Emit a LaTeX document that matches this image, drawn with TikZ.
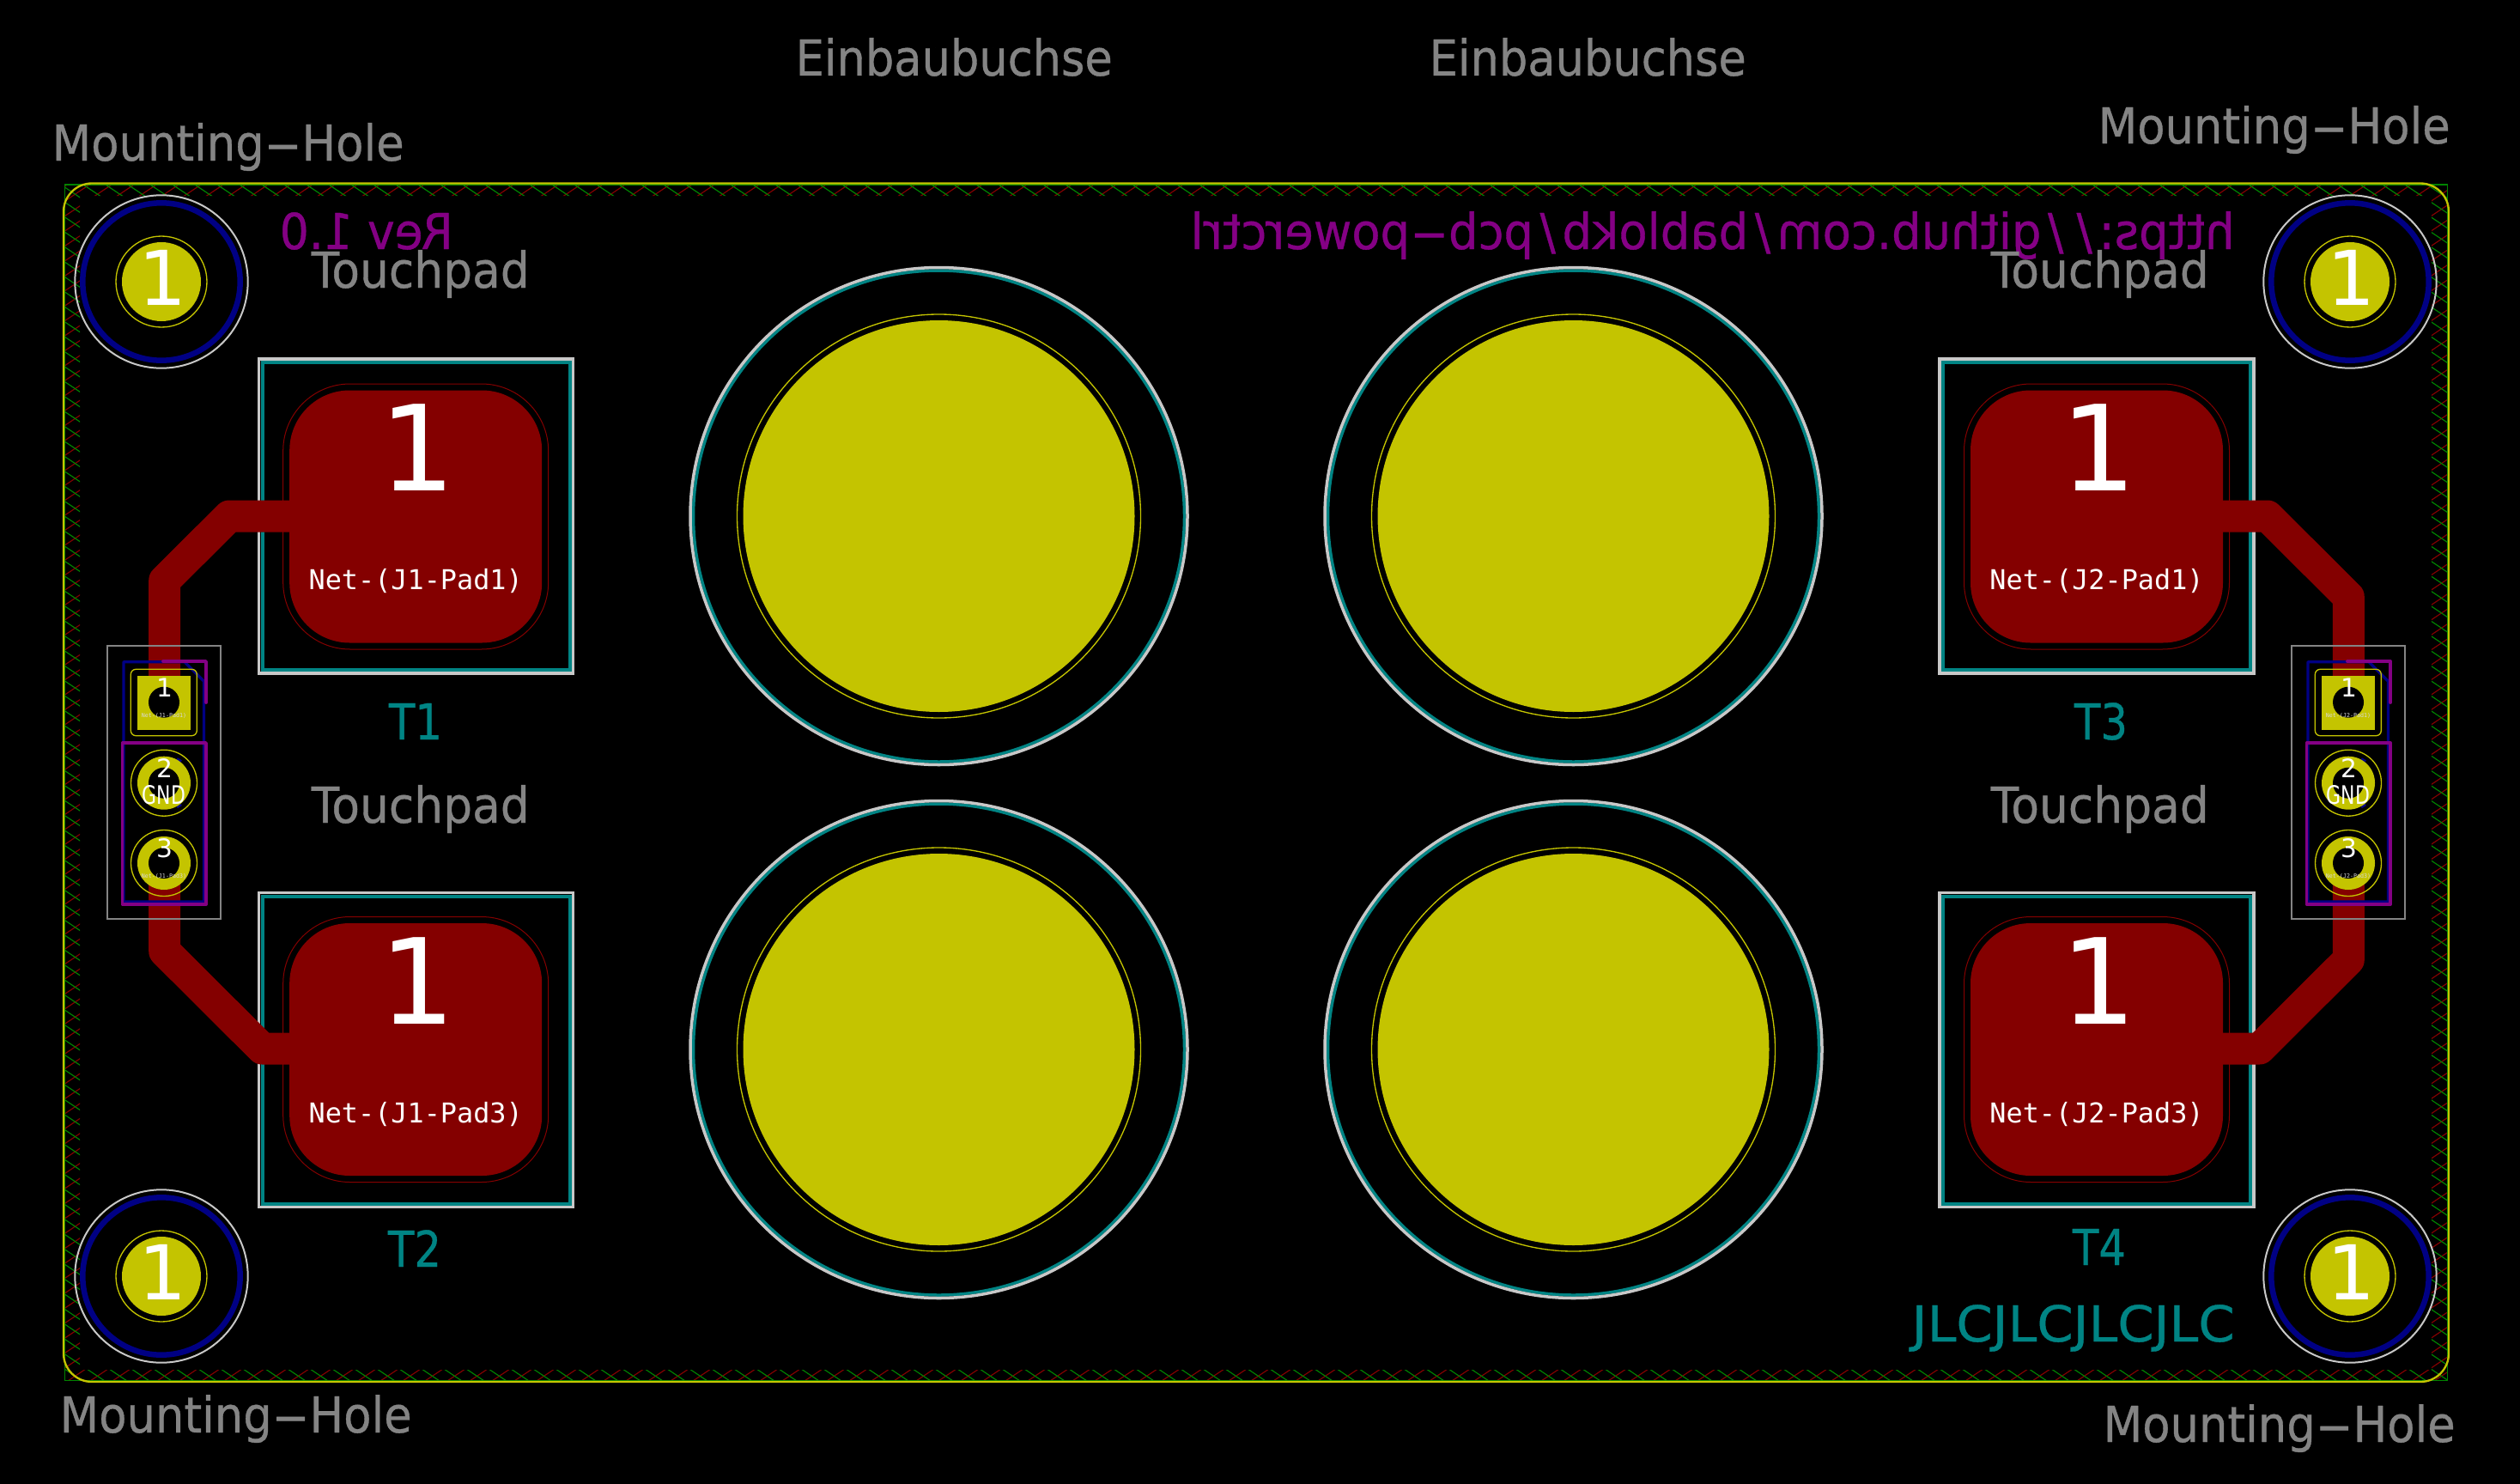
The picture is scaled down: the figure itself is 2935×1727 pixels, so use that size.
\documentclass[tikz,border=0pt]{standalone}
\usepackage{graphicx}
\usepackage{fontspec}
\setmainfont{DejaVu Sans}
\newfontfamily\netfont{DejaVu Sans Mono}
\newfontfamily\kifont[FakeBold=0.7]{DejaVu Sans}
\usetikzlibrary{positioning}

\definecolor{gold}{HTML}{C4C400}
\definecolor{cu}{HTML}{840000}
\definecolor{bluecu}{HTML}{000084}
\definecolor{teal}{HTML}{008484}
\definecolor{silk}{HTML}{848484}
\definecolor{edge}{HTML}{C8C8C8}
\definecolor{mauve}{HTML}{840084}
\definecolor{zone}{HTML}{008400}

% one picture unit is one pixel of the board plot
\newdimen\pxunit \pxunit=0.3pt
\newcommand{\hy}{\scalebox{2.3}[1]{-}}
\newcommand{\sep}{\hspace{0.14em}/\hspace{0.14em}}
\newcommand{\kitext}[2]{\resizebox{#1\pxunit}{\height}{\kifont\fontsize{17.3}{20}\selectfont #2}}

\tikzset{
 silktext/.style={anchor=base west,inner sep=0pt,text=silk},
 refdes/.style={anchor=base,inner sep=0pt,text=teal},
 padnum/.style={anchor=base,inner sep=0pt,text=white},
 netname/.style={anchor=center,inner sep=0pt,text=white,font=\netfont\fontsize{9.55}{11}\selectfont},
 tinynet/.style={anchor=center,inner sep=0pt,text=white!85!black,font=\netfont\fontsize{2}{2.4}\selectfont},
 touchpad/.style={fill=cu,minimum size=88.2pt,inner sep=0pt,rounded corners=21pt},
 clearance/.style={draw=cu,line width=0.3pt,minimum size=92.7pt,inner sep=0pt,rounded corners=23.4pt},
 track/.style={draw=cu,line width=11.1pt,line join=round},
 thinline/.style={draw=gold,line width=0.4pt},
 purple line/.style={draw=mauve,line width=1.15pt,line cap=round,line join=round},
 blue line/.style={draw=bluecu,line width=1pt,line join=round}
}

\begin{document}
\begin{tikzpicture}[x=0.3pt,y=-0.3pt]
\useasboundingbox (0,0) rectangle (2935,1727);
\fill[black] (-5,-5) rectangle (2940,1732);

% hatching of the keep-out band
\begin{scope}[even odd rule]
\clip (75.5,215) rectangle (2850.5,1607.5) (93,228) rectangle (2832,1595);
\foreach \i in {-82,...,107}
 \draw[cu,line width=0.35pt] (105+26*\i,1608) -- ++(2100,-1407);
\foreach \i in {-2,...,187}
 \draw[zone,line width=0.35pt] (122+26*\i,1608) -- ++(-2100,-1407);
\end{scope}
\draw[zone,line width=0.4pt] (75.5,215) rectangle (2850.5,1607.5);
\draw[gold,line width=0.7pt,rounded corners=9.9pt] (74,213.5) rectangle (2852,1609);

% the four big sockets
\foreach \x/\y in {1093.5/601,1832.5/601,1093.5/1222,1832.5/1222}{
 \fill[gold] (\x,\y) circle (228);
 \draw[thinline] (\x,\y) circle (235);
 \draw[teal,line width=1.05pt] (\x,\y) circle (286);
 \draw[edge,line width=1.05pt] (\x,\y) circle (289.5);
}

% mounting holes
\foreach \x/\y/\n in {188/328/a,2737/328/b,188/1486/c,2737/1486/d}{
 \draw[edge,line width=0.6pt] (\x,\y) circle (100.7);
 \draw[bluecu,line width=1.95pt] (\x,\y) circle (91.7);
 \fill[gold] (\x,\y) circle (46);
 \draw[thinline] (\x,\y) circle (53);
 \node[padnum,font=\fontsize{26.4}{30}\selectfont] (hole\n) at (\x+1,\y+27) {1};
}

% frames of the touchpads
\foreach \x/\y in {484.5/601,484.5/1222.5,2442/601,2442/1222.5}{
 \draw[teal,line width=1.2pt] (\x-179,\y-179) rectangle (\x+179,\y+179);
 \draw[edge,line width=1.05pt] (\x-183,\y-183) rectangle (\x+183,\y+183);
}

% touchpads
\node[touchpad] (padA) at (484.2,601.5) {};
\node[touchpad] (padB) at (484.2,1222) {};
\node[touchpad] (padC) at (2442,601.5) {};
\node[touchpad] (padD) at (2442,1222) {};
\node[clearance] at (padA) {};
\node[clearance] at (padB) {};
\node[clearance] at (padC) {};
\node[clearance] at (padD) {};

% where the tracks end at the connectors
\coordinate (connA) at (191.7,817.7);
\coordinate (connB) at (191.7,1005);
\coordinate (connC) at (2735.3,817.7);
\coordinate (connD) at (2735.3,1005);
\draw[track] (padA.center) -- (267,601) -- (191.7,676) -- (connA);
\draw[track] (padB.center) -- (305.5,1221) -- (191.7,1107.6) -- (connB);
\draw[track] (padC.center) -- (2640.9,601) -- (2735.3,695) -- (connC);
\draw[track] (padD.center) -- (2631.6,1221) -- (2735.3,1117.6) -- (connD);

% the two connectors
\foreach \cx/\n in {191/1,2735/2}{
\begin{scope}[shift={(\cx,0)}]
 \draw[silk,line width=0.6pt] (-66.5,752) rectangle (66,1070);
 \draw[blue line] (-47,770.7) -- (24,770.7) -- (46.5,793.3) -- (46.5,1050) -- (-47,1050) -- cycle;
 \draw[bluecu,line width=1pt] (15,883.7) -- (20,886.7);
 \draw[bluecu,line width=1pt] (15,939.7) -- (20,936.7);
 \fill[gold] (-31,787) rectangle (31,849.7);
 \fill[black] (0,817.7) circle (18);
 \draw[thinline,rounded corners=1.8pt] (-38.7,779.3) rectangle (38.3,856.7);
 \fill[gold] (0,911.7) circle (31);
 \fill[black] (0,911.7) circle (18);
 \draw[thinline] (0,911.7) circle (38.5);
 \fill[gold] (0,1005) circle (31);
 \fill[black] (0,1005) circle (18);
 \draw[thinline] (0,1005) circle (38.5);
 \draw[purple line] (-1,770) -- (49,770) -- (49,818);
 \draw[purple line] (-48.5,865) rectangle (49,1053);
 \node[padnum,font=\fontsize{8.9}{10}\selectfont] (num1J\n) at (1,811.7) {1};
 \node[padnum,font=\fontsize{8.9}{10}\selectfont] (num2J\n) at (1,905) {2};
 \node[padnum,font=\fontsize{8.9}{10}\selectfont] (gndJ\n) at (0,936.7) {\scalebox{0.74}[1]{GND}};
 \node[padnum,font=\fontsize{8.9}{10}\selectfont] (num3J\n) at (1,998.3) {3};
 \node[tinynet] (netaJ\n) at (0,833.3) {Net-(J\n-Pad1)};
 \node[tinynet] (netbJ\n) at (0,1020) {Net-(J\n-Pad3)};
\end{scope}
}

% pad numbers and nets
\foreach \p/\t in {padA/J1-Pad1,padB/J1-Pad3,padC/J2-Pad1,padD/J2-Pad3}{
 \node[padnum,font=\fontsize{41.5}{48}\selectfont] (\p num) at ([shift={(2,-30)}]\p.center) {1};
 \node[netname] (\p net) at ([shift={(0,75)}]\p.center) {Net-(\t)};
}

% mirrored texts on the back
\node[silktext,text=mauve] (rev) at (325,290) {\reflectbox{\kitext{202}{Rev 1.0}}};
\node[silktext,text=mauve] (url) at (1386,290) {\reflectbox{\kitext{1216}{https:\sep\sep github.com\sep bablokb\sep pcb\hy powerctrl}}};

% texts of the parts
\node[silktext] (socketA) at (926,88) {\kitext{369}{Einbaubuchse}};
\node[silktext] (socketB) at (1664,88) {\kitext{369}{Einbaubuchse}};
\node[silktext] (holeA) at (60,187) {\kitext{410}{Mounting\hy Hole}};
\node[silktext] (holeB) at (2443,167) {\kitext{410}{Mounting\hy Hole}};
\node[silktext] (holeC) at (69,1668) {\kitext{410}{Mounting\hy Hole}};
\node[silktext] (holeD) at (2449,1679) {\kitext{410}{Mounting\hy Hole}};
\node[silktext] (touchA) at (362,335) {\kitext{254}{Touchpad}};
\node[silktext] (touchB) at (2318,335) {\kitext{254}{Touchpad}};
\node[silktext] (touchC) at (362,958) {\kitext{254}{Touchpad}};
\node[silktext] (touchD) at (2318,958) {\kitext{254}{Touchpad}};
\node[refdes] (T1) at (484,861) {\kitext{62}{T1}};
\node[refdes] (T2) at (483,1475) {\kitext{62}{T2}};
\node[refdes] (T3) at (2447,861) {\kitext{62}{T3}};
\node[refdes] (T4) at (2445,1473) {\kitext{62}{T4}};
\node[refdes,anchor=base west] (jlc) at (2226,1562) {\kitext{376}{JLCJLCJLCJLC}};
\end{tikzpicture}
\end{document}
